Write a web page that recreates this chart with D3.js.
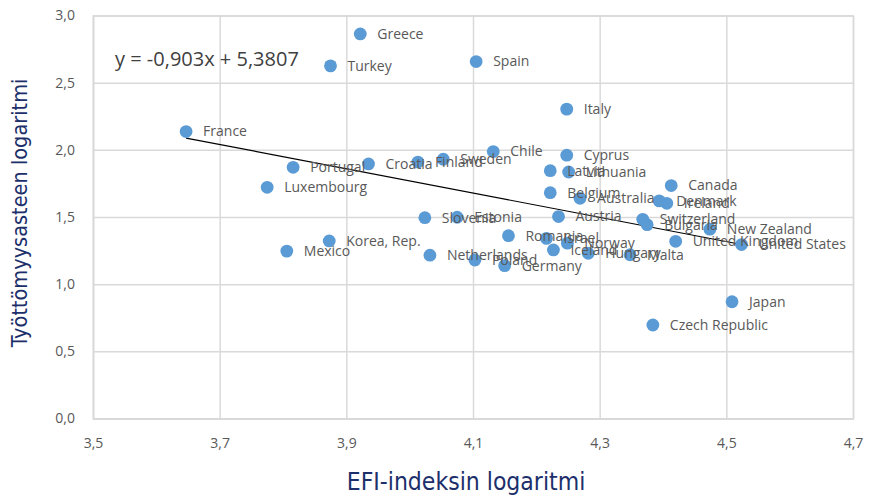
<!DOCTYPE html>
<html>
<head>
<meta charset="utf-8">
<script src="https://cdn.jsdelivr.net/npm/d3@7"></script>
<style>
  body { margin: 0; background: #ffffff; }
  svg { display: block; }
</style>
</head>
<body>
<div id="chart"></div>
<script>
// data
var countries = ["Greece", "Turkey", "Spain", "Italy", "France", "Chile", "Cyprus", "Sweden",
  "Finland", "Croatia", "Portugal", "Latvia", "Lithuania", "Luxembourg", "Canada", "Belgium",
  "Australia", "Denmark", "Ireland", "Slovenia", "Estonia", "Austria", "Switzerland", "Bulgaria",
  "New Zealand", "Romania", "Korea, Rep.", "Israel", "Norway", "United Kingdom", "United States",
  "Mexico", "Netherlands", "Iceland", "Hungary", "Malta", "Poland", "Germany", "Japan", "Czech Republic"];
var efiLog = [3.922, 3.875, 4.105, 4.248, 3.647, 4.132, 4.248, 4.053,
  4.013, 3.935, 3.816, 4.222, 4.251, 3.775, 4.413, 4.222,
  4.269, 4.394, 4.406, 4.024, 4.075, 4.235, 4.368, 4.375,
  4.474, 4.156, 3.873, 4.216, 4.249, 4.420, 4.524,
  3.806, 4.032, 4.227, 4.282, 4.348, 4.103, 4.150, 4.509, 4.384];
var unempLog = [2.863, 2.625, 2.657, 2.303, 2.136, 1.987, 1.960, 1.930,
  1.909, 1.895, 1.870, 1.845, 1.835, 1.721, 1.734, 1.681,
  1.639, 1.620, 1.602, 1.495, 1.498, 1.503, 1.483, 1.443,
  1.409, 1.361, 1.322, 1.341, 1.305, 1.319, 1.295,
  1.246, 1.216, 1.255, 1.230, 1.219, 1.180, 1.138, 0.869, 0.696];
var xTicks = [3.5, 3.7, 3.9, 4.1, 4.3, 4.5, 4.7];
var yTicks = [0, 0.5, 1.0, 1.5, 2.0, 2.5, 3.0];
var slope = -0.903, intercept = 5.3807;
var equationText = "y = -0,903x + 5,3807";
var xTitle = "EFI-indeksin logaritmi";
var yTitle = "Työttömyysasteen logaritmi";

//--------------------------------------
// Layout
//--------------------------------------

var width = 870, height = 501;
var plot = { left: 93, right: 853, top: 15.5, bottom: 418.5 };
var gridColor = "#d9d9d9", textColor = "#595959", titleColor = "#1c2f6b", dotColor = "#5b9bd5";
var labelFont = "'Open Sans', 'DejaVu Sans', sans-serif";
var narrowFont = "'Liberation Sans Narrow', 'DejaVu Sans Condensed', 'Liberation Sans', sans-serif";

var points = countries.map(function(c, i) { return { name: c, x: efiLog[i], y: unempLog[i] }; });

var x = d3.scaleLinear().domain([3.5, 4.7]).range([plot.left, plot.right]);
var y = d3.scaleLinear().domain([0, 3]).range([plot.bottom, plot.top]);
var fmt = function(v) { return d3.format(".1f")(v).replace(".", ","); };

var svg = d3.select("#chart").append("svg")
  .attr("width", width)
  .attr("height", height);

function styleAxis(g) {
  g.select(".domain").attr("stroke", gridColor).attr("stroke-width", 1.5);
  g.selectAll(".tick line").attr("stroke", gridColor).attr("stroke-width", 1.5);
  g.selectAll(".tick text")
    .attr("fill", textColor)
    .style("font-family", labelFont)
    .style("font-size", "14px");
}

// grid + axes
svg.append("g")
  .attr("transform", "translate(0," + plot.bottom + ")")
  .call(d3.axisBottom(x).tickValues(xTicks).tickSize(-(plot.bottom - plot.top)).tickFormat(fmt).tickPadding(20))
  .call(styleAxis);

svg.append("g")
  .attr("transform", "translate(" + plot.left + ",0)")
  .call(d3.axisLeft(y).tickValues(yTicks).tickSize(-(plot.right - plot.left)).tickFormat(fmt).tickPadding(18))
  .call(styleAxis);

// trend line over the data range
var xMin = d3.min(efiLog), xMax = d3.max(efiLog);
svg.append("line")
  .attr("x1", x(xMin)).attr("y1", y(slope * xMin + intercept))
  .attr("x2", x(xMax)).attr("y2", y(slope * xMax + intercept))
  .attr("stroke", "#000000")
  .attr("stroke-width", 1.2);

// dots
svg.append("g").selectAll("circle")
  .data(points)
  .enter().append("circle")
  .attr("cx", function(d) { return x(d.x); })
  .attr("cy", function(d) { return y(d.y); })
  .attr("r", 6.4)
  .attr("fill", dotColor);

// labels
svg.append("g").selectAll("text")
  .data(points)
  .enter().append("text")
  .attr("x", function(d) { return x(d.x) + 17; })
  .attr("y", function(d) { return y(d.y); })
  .attr("dy", "0.35em")
  .attr("fill", textColor)
  .style("font-family", labelFont)
  .style("font-size", "14px")
  .text(function(d) { return d.name; });

// equation
svg.append("text")
  .attr("x", 115)
  .attr("y", 66)
  .attr("fill", "#404040")
  .style("font-family", labelFont)
  .style("font-size", "20px")
  .text(equationText);

// axis titles
svg.append("text")
  .attr("x", 466)
  .attr("y", 490)
  .attr("text-anchor", "middle")
  .attr("fill", titleColor)
  .style("font-family", narrowFont)
  .style("font-size", "24.5px")
  .text(xTitle);

svg.append("text")
  .attr("transform", "translate(27,213) rotate(-90)")
  .attr("text-anchor", "middle")
  .attr("fill", titleColor)
  .style("font-family", narrowFont)
  .style("font-size", "21.5px")
  .text(yTitle);
</script>
</body>
</html>
